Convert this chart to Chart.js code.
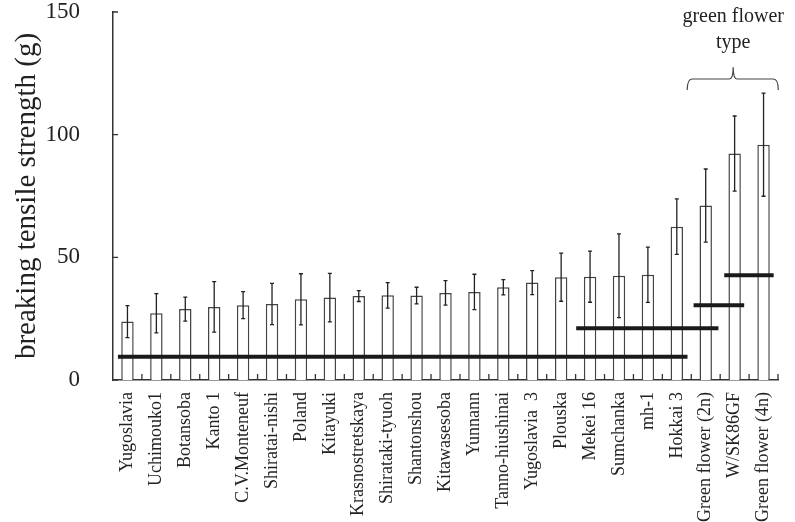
<!DOCTYPE html>
<html>
<head>
<meta charset="utf-8">
<script src="https://cdn.jsdelivr.net/npm/chart.js@4/dist/chart.umd.min.js"></script>
<style>
  html, body { margin: 0; padding: 0; background: #fff; }
</style>
</head>
<body>
<canvas id="myChart" width="795" height="522"></canvas>
<script>
const categories = ['Yugoslavia', 'Uchimouko1', 'Botansoba', 'Kanto 1', 'C.V.Monteneuf', 'Shiratai-nishi',
  'Poland', 'Kitayuki', 'Krasnostretskaya', 'Shirataki-tyuoh', 'Shantonshou', 'Kitawasesoba', 'Yunnann',
  'Tanno-hiushinai', 'Yugoslavia  3', 'Plouska', 'Mekei 16', 'Sumchanka', 'mh-1', 'Hokkai 3',
  'Green flower (2n)', 'W/SK86GF', 'Green flower (4n)'];
const meanStrength = [23.8, 27.2, 28.9, 29.8, 30.5, 31.0, 32.9, 33.6, 34.2, 34.5, 34.4, 35.5, 35.9,
  37.8, 39.7, 41.9, 42.1, 42.5, 42.9, 62.5, 71.1, 92.3, 95.9];
const errStrength = [6.5, 8.0, 4.9, 10.3, 5.5, 8.4, 10.4, 9.9, 2.2, 5.2, 3.4, 5.0, 7.2,
  3.1, 4.9, 9.8, 10.4, 17.1, 11.3, 11.3, 14.9, 15.3, 21.0];
const yTicks = [0, 50, 100, 150];

// horizontal group lines, in category-index units
const groupStart = [-0.33, 15.52, 19.58, 20.64];
const groupEnd = [19.37, 20.44, 21.33, 22.35];
const groupValue = [9.5, 21.1, 30.5, 42.7];

const serif = "'Liberation Serif', 'DejaVu Serif', serif";

const extras = {
  id: 'extras',
  afterDatasetsDraw(chart) {
    const { ctx, scales: { x, x2, y } } = chart;
    const meta = chart.getDatasetMeta(0);
    ctx.save();

    // error bars
    ctx.strokeStyle = '#222';
    ctx.lineWidth = 1.3;
    meta.data.forEach((bar, i) => {
      const hi = y.getPixelForValue(meanStrength[i] + errStrength[i]);
      const lo = y.getPixelForValue(meanStrength[i] - errStrength[i]);
      ctx.beginPath();
      ctx.moveTo(bar.x, hi); ctx.lineTo(bar.x, lo);
      ctx.moveTo(bar.x - 2, hi); ctx.lineTo(bar.x + 2, hi);
      ctx.moveTo(bar.x - 2, lo); ctx.lineTo(bar.x + 2, lo);
      ctx.stroke();
    });

    // inward tick marks
    ctx.strokeStyle = '#333';
    ctx.lineWidth = 1.3;
    ctx.beginPath();
    for (let k = 1; k <= categories.length; k++) {
      const px = x2.getPixelForValue(k - 0.5);
      ctx.moveTo(px, y.bottom); ctx.lineTo(px, y.bottom - 6);
    }
    yTicks.forEach(v => {
      const py = y.getPixelForValue(v);
      ctx.moveTo(x.left, py); ctx.lineTo(x.left + 5, py);
    });
    ctx.stroke();

    // brace over the green flower types
    const bx0 = x2.getPixelForValue(19.36);
    const bx1 = x2.getPixelForValue(22.51);
    const bxc = x2.getPixelForValue(20.95);
    const byTop = y.getPixelForValue(122.7);
    const byEnd = y.getPixelForValue(118.2);
    const byTip = y.getPixelForValue(127.5);
    ctx.strokeStyle = '#444';
    ctx.lineWidth = 1.2;
    ctx.beginPath();
    ctx.moveTo(bx0, byEnd);
    ctx.quadraticCurveTo(bx0, byTop, bx0 + 5, byTop);
    ctx.lineTo(bxc - 4, byTop);
    ctx.quadraticCurveTo(bxc, byTop, bxc, byTip);
    ctx.quadraticCurveTo(bxc, byTop, bxc + 4, byTop);
    ctx.lineTo(bx1 - 5, byTop);
    ctx.quadraticCurveTo(bx1, byTop, bx1, byEnd);
    ctx.stroke();

    ctx.fillStyle = '#222';
    ctx.font = '20px ' + serif;
    ctx.textAlign = 'center';
    ctx.textBaseline = 'middle';
    ctx.fillText('green flower', bxc, byTop - 62);
    ctx.fillText('type', bxc, byTop - 36);
    ctx.restore();
  }
};

const datasets = [{
  type: 'bar',
  data: meanStrength,
  backgroundColor: '#fff',
  borderColor: '#444',
  borderWidth: 1.5,
  grouped: false,
  barPercentage: 0.43,
  categoryPercentage: 1,
  order: 1
}];
groupValue.forEach((v, i) => {
  datasets.push({
    type: 'line',
    xAxisID: 'x2',
    data: [{ x: groupStart[i], y: v }, { x: groupEnd[i], y: v }],
    borderColor: '#1a1a1a',
    borderWidth: 4,
    pointRadius: 0,
    order: 0
  });
});

new Chart(document.getElementById('myChart').getContext('2d'), {
  data: { labels: categories, datasets },
  plugins: [extras],
  options: {
    responsive: false,
    animation: false,
    layout: { padding: { top: 0, right: 17, left: 0, bottom: 0 } },
    plugins: { legend: { display: false }, tooltip: { enabled: false } },
    scales: {
      x: {
        type: 'category',
        offset: true,
        grid: { display: false },
        border: { display: true, color: '#333', width: 1.5 },
        ticks: {
          autoSkip: false, maxRotation: 90, minRotation: 90, padding: 4,
          color: '#222', font: { family: serif, size: 18 }
        },
        afterFit: s => { s.height = 142; }
      },
      x2: { type: 'linear', display: false, min: -0.5, max: 22.5 },
      y: {
        min: 0, max: 150,
        grid: { display: false },
        border: { display: true, color: '#333', width: 1.5 },
        afterBuildTicks: s => { s.ticks = yTicks.map(v => ({ value: v })); },
        ticks: { padding: 25, color: '#222', font: { family: serif, size: 23 } },
        title: {
          display: true, text: 'breaking tensile strength (g)',
          color: '#222', font: { family: serif, size: 29 }, padding: { top: 10, bottom: 0 }
        },
        afterFit: s => { s.width = 113; s.paddingTop = 12; s.paddingBottom = 0; }
      }
    }
  }
});
</script>
</body>
</html>
